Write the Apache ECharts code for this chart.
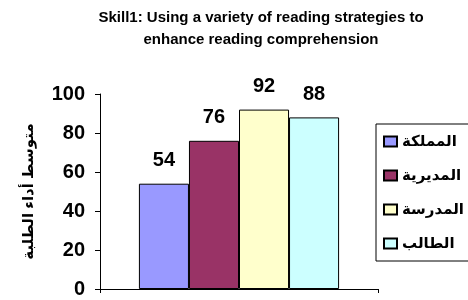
<!DOCTYPE html>
<html>
<head>
<meta charset="utf-8">
<script src="https://cdn.jsdelivr.net/npm/echarts@6/dist/echarts.min.js"></script>
<style>
    html, body { margin: 0; padding: 0; background: #fff; }
    #chart { width: 468px; height: 300px; }
</style>
</head>
<body>
<div id="chart"></div>
<script>
var categories = [''];
var seriesNames = ['المملكة', 'المديرية', 'المدرسة', 'الطالب'];
var seriesValues = [54, 76, 92, 88];
var seriesColors = ['#9999FF', '#993366', '#FFFFCC', '#CCFFFF'];
var yTicks = [0, 20, 40, 60, 80, 100];

window.addEventListener('load', function() {
    var chart = echarts.init(document.getElementById('chart'));
    var font = 'Liberation Sans, Arial, DejaVu Sans, sans-serif';

    var series = [];
    for (var i = 0; i < seriesNames.length; i++) {
        series.push({
            name: seriesNames[i],
            type: 'bar',
            data: [seriesValues[i]],
            barGap: 0,
            barCategoryGap: '28%',
            itemStyle: {
                color: seriesColors[i],
                borderColor: '#000',
                borderWidth: 1
            },
            label: {
                show: true,
                position: 'top',
                distance: 13,
                color: '#000',
                fontSize: 20,
                fontWeight: 'bold',
                fontFamily: font
            }
        });
    }

    chart.setOption({
        animation: false,
        backgroundColor: '#fff',
        title: {
            text: 'Skill1: Using a variety of reading strategies to\nenhance reading comprehension',
            left: 256,
            top: 2,
            textAlign: 'center',
            textStyle: {
                fontSize: 15,
                fontWeight: 'bold',
                fontFamily: font,
                color: '#000',
                lineHeight: 22
            }
        },
        legend: {
            orient: 'vertical',
            left: 376,
            top: 124,
            width: 80,
            padding: [10, 20, 10, 7],
            itemGap: 19,
            itemWidth: 13,
            itemHeight: 10,
            backgroundColor: '#fff',
            borderColor: '#000',
            borderWidth: 1,
            borderRadius: 0,
            icon: 'rect',
            textStyle: {
                fontSize: 15,
                fontWeight: 'bold',
                fontFamily: font,
                color: '#000'
            },
            data: seriesNames
        },
        grid: {
            left: 100,
            right: 90,
            top: 94,
            bottom: 11
        },
        xAxis: {
            type: 'category',
            data: categories,
            axisLine: { lineStyle: { color: '#000' } },
            axisTick: { show: true, length: 4, lineStyle: { color: '#000' } },
            axisLabel: { show: false }
        },
        yAxis: {
            type: 'value',
            min: yTicks[0],
            max: yTicks[yTicks.length - 1],
            interval: 20,
            name: 'متوسط أداء الطلبة',
            nameLocation: 'middle',
            nameRotate: 90,
            nameGap: 64,
            nameTextStyle: {
                fontSize: 15,
                fontWeight: 'bold',
                fontFamily: font,
                color: '#000'
            },
            splitLine: { show: false },
            axisLine: { show: true, lineStyle: { color: '#000' } },
            axisTick: { show: true, length: 5, lineStyle: { color: '#000' } },
            axisLabel: {
                margin: 15,
                fontSize: 20,
                fontWeight: 'bold',
                fontFamily: font,
                color: '#000'
            }
        },
        series: series
    });
});
</script>
</body>
</html>
